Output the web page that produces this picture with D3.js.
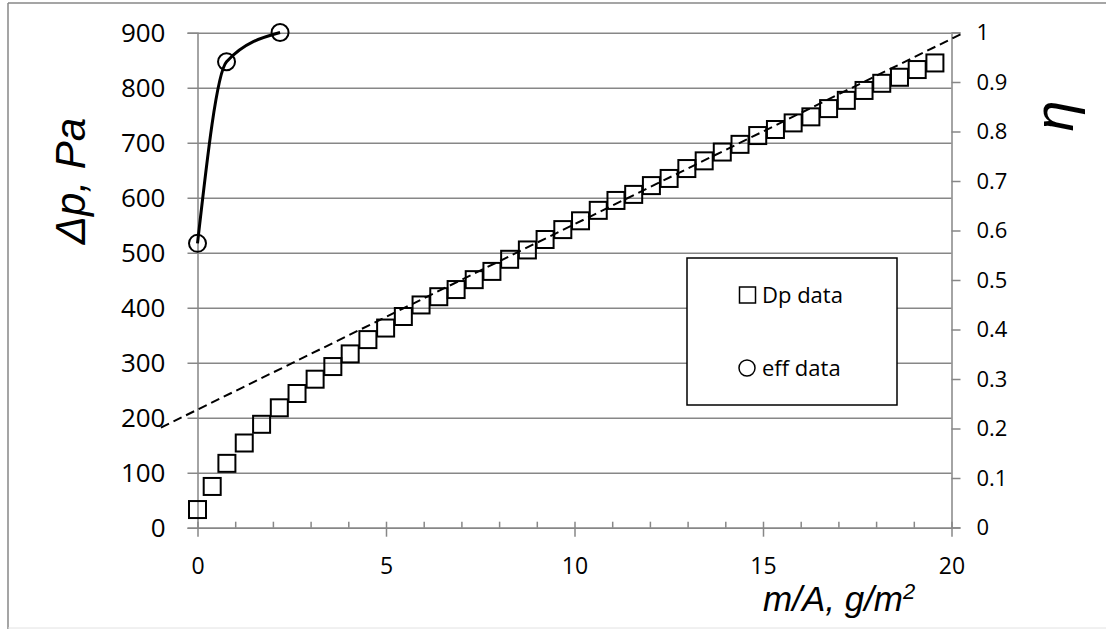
<!DOCTYPE html>
<html>
<head>
<meta charset="utf-8">
<script src="https://cdn.jsdelivr.net/npm/d3@7"></script>
<style>
  body { margin: 0; background: #fff; }
  svg { display: block; }
  .tick text { fill: #000; font-family: "Open Sans", sans-serif; }
</style>
</head>
<body>
<div id="chart"></div>
<script>
// Dp data: m/A (g/m2) and pressure drop (Pa)
const dpX = [0, 0.39, 0.78, 1.24, 1.70, 2.17, 2.64, 3.12, 3.59, 4.05, 4.52, 4.99, 5.46, 5.93,
  6.40, 6.86, 7.34, 7.81, 8.28, 8.75, 9.22, 9.69, 10.16, 10.63, 11.10, 11.57, 12.04, 12.51,
  12.98, 13.44, 13.92, 14.39, 14.86, 15.33, 15.80, 16.27, 16.74, 17.21, 17.68, 18.15, 18.62,
  19.09, 19.56];
const dpY = [33, 75, 117, 154, 188, 218, 244, 270, 293, 316, 342, 363, 384, 405,
  420, 433, 451, 466, 488, 505, 524, 542, 558, 577, 595, 606, 622, 635,
  653, 667, 683, 697, 713, 724, 736, 747, 762, 777, 795, 808, 819,
  833, 845];

// eff data (right axis)
const effX = [0, 0.77, 2.19];
const effY = [0.574, 0.941, 1.0];

// linear trendline of Dp data, end points
const trendX = [-0.97, 20.27];
const trendY = [182, 898];

// ticks
const xMajor = [0, 5, 10, 15, 20];
const xMinor = [1, 2, 3, 4, 6, 7, 8, 9, 11, 12, 13, 14, 16, 17, 18, 19];
const leftTicks = [0, 100, 200, 300, 400, 500, 600, 700, 800, 900];
const rightTicks = [0, 0.1, 0.2, 0.3, 0.4, 0.5, 0.6, 0.7, 0.8, 0.9, 1];

const width = 1106, height = 629;
const grey = "#878787";

const svg = d3.select("#chart").append("svg")
  .attr("width", width)
  .attr("height", height);

// outer frame
svg.append("line").attr("x1", 8).attr("y1", 3).attr("x2", 8).attr("y2", 629)
  .attr("stroke", grey).attr("stroke-width", 1.5);
svg.append("line").attr("x1", 8).attr("y1", 3).attr("x2", 1106).attr("y2", 3)
  .attr("stroke", grey).attr("stroke-width", 1.5);
svg.append("line").attr("x1", 8).attr("y1", 628).attr("x2", 1106).attr("y2", 628)
  .attr("stroke", "#e2e2e2").attr("stroke-width", 1);

const x = d3.scaleLinear().domain([0, 20]).range([197.5, 951.5]);
const yL = d3.scaleLinear().domain([0, 900]).range([527.7, 32.7]);
const yR = d3.scaleLinear().domain([0, 1]).range([527.5, 32.5]);

// left axis with gridlines
svg.append("g")
  .attr("transform", `translate(${x(0)},0)`)
  .call(d3.axisLeft(yL).tickValues(leftTicks).tickSize(10).tickPadding(22))
  .call(g => g.select(".domain").attr("stroke", grey).attr("stroke-width", 1.5))
  .call(g => g.selectAll(".tick line").attr("stroke", grey).attr("stroke-width", 1.5)
    .attr("x2", x(20) - x(0)).attr("x1", -10))
  .call(g => g.selectAll(".tick text").style("font-size", "26px"));

// right axis
svg.append("g")
  .attr("transform", `translate(${x(20)},0)`)
  .call(d3.axisRight(yR).tickValues(rightTicks).tickSize(9).tickPadding(16)
    .tickFormat(d3.format("~g")))
  .call(g => g.select(".domain").attr("stroke", grey).attr("stroke-width", 1.5))
  .call(g => g.selectAll(".tick line").attr("stroke", grey).attr("stroke-width", 1.5))
  .call(g => g.selectAll(".tick text").style("font-size", "22px"));

// bottom axis, minor ticks inside
svg.append("g")
  .attr("transform", `translate(0,${yL(0)})`)
  .call(d3.axisBottom(x).tickValues(xMinor).tickSize(-6).tickFormat(""))
  .call(g => g.select(".domain").remove())
  .call(g => g.selectAll(".tick line").attr("stroke", grey).attr("stroke-width", 1.5));

svg.append("g")
  .attr("transform", `translate(0,${yL(0)})`)
  .call(d3.axisBottom(x).tickValues(xMajor).tickSize(9).tickPadding(21).tickSizeOuter(0))
  .call(g => g.select(".domain").attr("stroke", grey).attr("stroke-width", 1.5))
  .call(g => g.selectAll(".tick line").attr("stroke", grey).attr("stroke-width", 1.5).attr("y1", -6))
  .call(g => g.selectAll(".tick text").style("font-size", "23px"));

// legend
const legend = svg.append("g");
legend.append("rect")
  .attr("x", 687).attr("y", 258).attr("width", 210).attr("height", 147)
  .attr("fill", "#fff").attr("stroke", "#000").attr("stroke-width", 1.5);
legend.append("rect")
  .attr("x", 739.5).attr("y", 287).attr("width", 16).attr("height", 16)
  .attr("fill", "none").attr("stroke", "#000").attr("stroke-width", 1.5);
legend.append("circle")
  .attr("cx", 747).attr("cy", 368).attr("r", 8)
  .attr("fill", "none").attr("stroke", "#000").attr("stroke-width", 1.5);
legend.selectAll("text.lg")
  .data(["Dp data", "eff data"])
  .enter().append("text")
  .attr("x", 762)
  .attr("y", (d, i) => i === 0 ? 303 : 376)
  .attr("font-family", "Open Sans, sans-serif")
  .attr("font-size", 22)
  .text(d => d);

// trendline
svg.append("path")
  .datum(trendX.map((v, i) => [v, trendY[i]]))
  .attr("fill", "none")
  .attr("stroke", "#000")
  .attr("stroke-width", 2)
  .attr("stroke-dasharray", "9,5")
  .attr("d", d3.line().x(d => x(d[0])).y(d => yL(d[1])));

// Dp squares
const sq = 17;
svg.selectAll(".sq")
  .data(dpX.map((v, i) => [v, dpY[i]]))
  .enter().append("rect")
  .attr("class", "sq")
  .attr("x", d => x(d[0]) - sq / 2)
  .attr("y", d => yL(d[1]) - sq / 2)
  .attr("width", sq).attr("height", sq)
  .attr("fill", "none").attr("stroke", "#000").attr("stroke-width", 2);

// eff curve + circles
const effPts = effX.map((v, i) => [v, effY[i]]);
svg.append("path")
  .datum(effPts)
  .attr("fill", "none")
  .attr("stroke", "#000")
  .attr("stroke-width", 3)
  .attr("d", d3.line().x(d => x(d[0])).y(d => yR(d[1])).curve(d3.curveMonotoneX));

svg.selectAll(".eff")
  .data(effPts)
  .enter().append("circle")
  .attr("class", "eff")
  .attr("cx", d => x(d[0])).attr("cy", d => yR(d[1])).attr("r", 8.5)
  .attr("fill", "none").attr("stroke", "#000").attr("stroke-width", 2);

// axis titles
svg.append("text")
  .attr("transform", "translate(85,181) rotate(-90)")
  .attr("text-anchor", "middle")
  .attr("font-family", "Liberation Sans, Arial, sans-serif")
  .attr("font-style", "italic")
  .attr("font-size", 42)
  .text("Δp, Pa");

svg.append("text")
  .attr("transform", "translate(1073,116) rotate(-90)")
  .attr("text-anchor", "middle")
  .attr("font-family", "Liberation Sans, Arial, sans-serif")
  .attr("font-style", "italic")
  .attr("font-size", 56)
  .text("η");

const xt = svg.append("text")
  .attr("x", 763).attr("y", 611)
  .attr("font-family", "Liberation Sans, Arial, sans-serif")
  .attr("font-style", "italic")
  .attr("font-size", 35);
xt.append("tspan").text("m/A, g/m");
xt.append("tspan").attr("font-size", 22).attr("dy", -12).text("2");
</script>
</body>
</html>
